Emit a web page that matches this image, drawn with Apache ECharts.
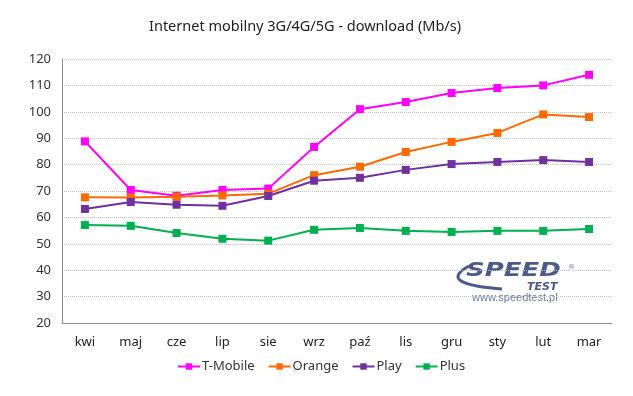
<!DOCTYPE html>
<html>
<head>
<meta charset="utf-8">
<script src="https://cdn.jsdelivr.net/npm/echarts@6/dist/echarts.min.js"></script>
<style>
  html, body { margin: 0; padding: 0; background: #fff; }
  #chart { width: 633px; height: 396px; }
</style>
</head>
<body>
<div id="chart"></div>
<script>
// dane
var months = ['kwi', 'maj', 'cze', 'lip', 'sie', 'wrz', 'paź', 'lis', 'gru', 'sty', 'lut', 'mar'];
var tmobile = [88.8, 70.4, 68.2, 70.4, 70.9, 86.7, 101.0, 103.7, 107.1, 109.0, 110.0, 114.0];
var orange = [67.6, 67.5, 67.8, 68.3, 69.0, 76.0, 79.2, 84.8, 88.6, 92.0, 99.0, 98.0];
var play = [63.2, 65.8, 64.8, 64.4, 68.1, 73.9, 75.0, 78.0, 80.2, 81.0, 81.7, 81.0];
var plus = [57.1, 56.8, 54.1, 51.9, 51.2, 55.3, 56.0, 54.9, 54.5, 54.9, 54.9, 55.6];

var font = 'Noto Sans';

function line(name, data, color) {
  return {
    name: name,
    type: 'line',
    data: data,
    symbol: 'rect',
    symbolSize: 8,
    lineStyle: { color: color, width: 2 },
    itemStyle: { color: color },
    animation: false
  };
}

var chart = echarts.init(document.getElementById('chart'));
chart.setOption({
  backgroundColor: '#fff',
  textStyle: { fontFamily: font },
  title: {
    text: 'Internet mobilny 3G/4G/5G - download (Mb/s)',
    left: 144,
    top: 14,
    textStyle: { fontFamily: font, fontSize: 14.5, fontWeight: 'normal', color: '#222' }
  },
  legend: {
    bottom: 18,
    left: 172,
    itemWidth: 22,
    itemHeight: 8,
    itemGap: 13,
    textStyle: { fontFamily: font, fontSize: 13, color: '#333', padding: [0, 0, 0, -3] },
    data: ['T-Mobile', 'Orange', 'Play', 'Plus']
  },
  grid: { left: 62, right: 21, top: 59, bottom: 73 },
  xAxis: {
    type: 'category',
    data: months,
    boundaryGap: true,
    axisLine: { lineStyle: { color: '#8c8c8c', width: 1 } },
    axisTick: { show: false },
    axisLabel: { color: '#222', fontSize: 13, margin: 13 }
  },
  yAxis: {
    type: 'value',
    min: 20,
    max: 120,
    interval: 10,
    axisLine: { show: true, lineStyle: { color: '#8c8c8c', width: 1 } },
    axisTick: { show: false },
    axisLabel: { color: '#333', fontSize: 13, margin: 11 },
    splitLine: { lineStyle: { color: '#c4c4c4', type: 'dotted', width: 1 } }
  },
  graphic: [
    {
      // łuk logo
      type: 'bezierCurve',
      shape: { x1: 469, y1: 266, cpx1: 436, cpy1: 284, x2: 502, y2: 289 },
      style: { stroke: '#4a5a8c', lineWidth: 3, fill: null }
    },
    {
      type: 'text',
      x: 466, y: 261,
      scaleX: 1.3,
      style: { text: 'SPEED', font: 'italic bold 20px "DejaVu Sans"', fill: '#4a5a8c' }
    },
    {
      type: 'text',
      left: 568, top: 264,
      style: { text: '®', font: '7px "DejaVu Sans"', fill: '#7a86a8' }
    },
    {
      type: 'text',
      left: 527, top: 282,
      style: { text: 'TEST', font: 'italic bold 11px "DejaVu Sans"', fill: '#4a5a8c' }
    },
    {
      type: 'text',
      left: 472, top: 292,
      style: { text: 'www.speedtest.pl', font: '11px "Liberation Sans"', fill: '#6a78a0' }
    }
  ],
  series: [
    line('T-Mobile', tmobile, '#ff00ff'),
    line('Orange', orange, '#ff6a00'),
    line('Play', play, '#7030a0'),
    line('Plus', plus, '#00b050')
  ]
});
</script>
</body>
</html>
